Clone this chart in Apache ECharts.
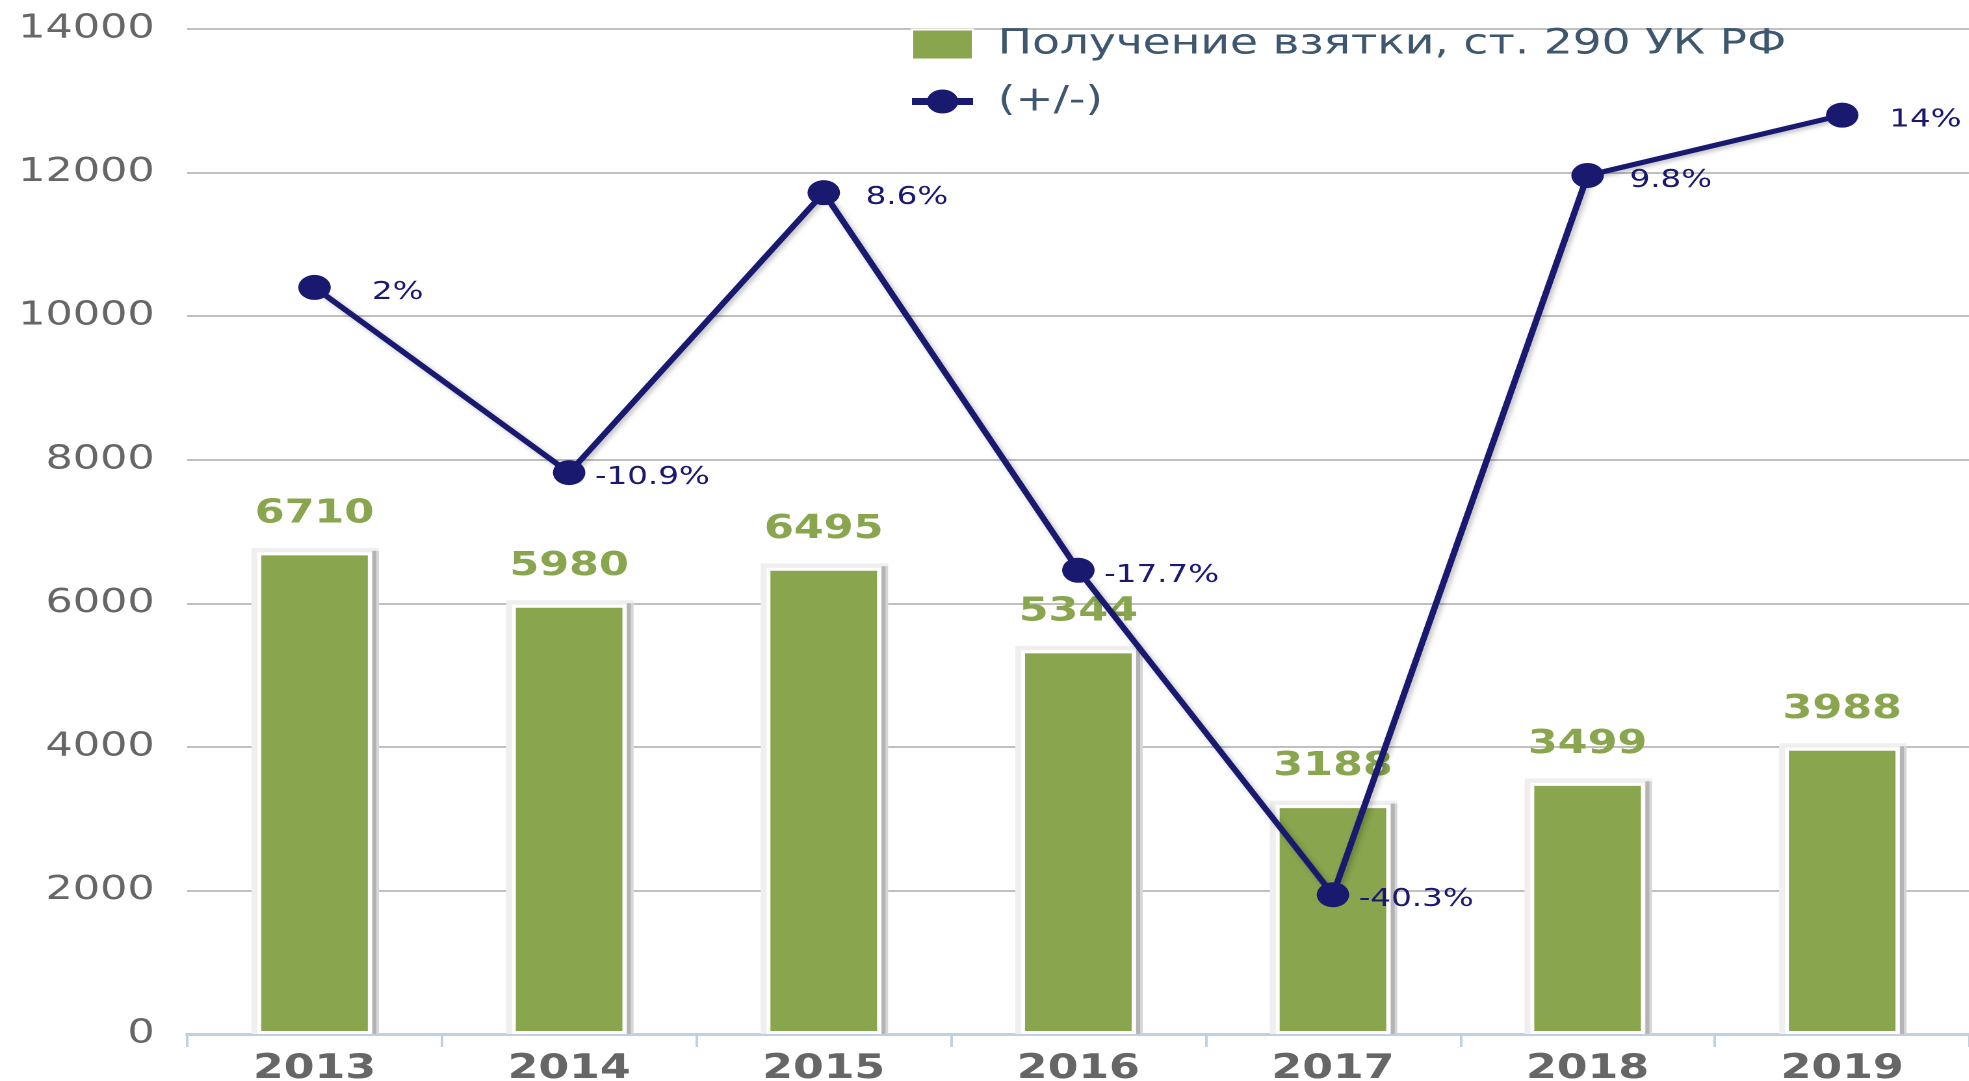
<!DOCTYPE html>
<html>
<head>
<meta charset="utf-8">
<script src="https://cdn.jsdelivr.net/npm/echarts@6/dist/echarts.min.js"></script>
<style>
  html, body { margin: 0; padding: 0; background: #fff; overflow: hidden; }
  #wrap { width: 1969px; height: 1081px; overflow: hidden; position: relative; }
  #chart { width: 1515px; height: 1081px; transform: scaleX(1.3); transform-origin: 0 0; }
</style>
</head>
<body>
<div id="wrap"><div id="chart"></div></div>
<script>
// Data
const years = ['2013', '2014', '2015', '2016', '2017', '2018', '2019'];
const bribeCases = [6710, 5980, 6495, 5344, 3188, 3499, 3988];
const changePct = [2, -10.9, 8.6, -17.7, -40.3, 9.8, 14];
const barName = 'Получение взятки, ст. 290 УК РФ';
const lineName = '(+/-)';
const yMin = 0, yMax = 14000, yStep = 2000;
const pctMin = -50, pctMax = 20;

const GREEN = '#89A54E';
const NAVY = '#191970';
const BAR_W = 88;

const chart = echarts.init(document.getElementById('chart'), null, { devicePixelRatio: 2 });
chart.setOption({
  animation: false,
  backgroundColor: '#fff',
  textStyle: { fontFamily: 'DejaVu Sans' },
  legend: {
    orient: 'vertical',
    left: 693,
    top: 22,
    itemWidth: 47,
    itemHeight: 30,
    itemGap: 22,
    textStyle: { color: '#3E576F', fontSize: 35, padding: [0, 0, 0, 14] },
    data: [
      { name: barName, icon: 'rect' },
      { name: lineName, lineStyle: { width: 7 } }
    ]
  },
  grid: { left: 144, right: 0, top: 29, bottom: 47, containLabel: false, outerBoundsMode: 'none' },
  xAxis: {
    type: 'category',
    data: years,
    axisLine: { lineStyle: { color: '#C0D0E0', width: 3 } },
    axisTick: { show: true, length: 13, lineStyle: { color: '#C0D0E0', width: 2 } },
    axisLabel: { color: '#666', fontSize: 34, fontWeight: 'bold', margin: 18 }
  },
  yAxis: [
    {
      type: 'value',
      min: yMin, max: yMax, interval: yStep,
      axisLine: { show: false },
      axisTick: { show: false },
      axisLabel: { color: '#666', fontSize: 33, margin: 25, formatter: v => String(v) },
      splitLine: { lineStyle: { color: '#C0C0C0', width: 2 } }
    },
    {
      type: 'value',
      min: pctMin, max: pctMax,
      show: false,
      splitLine: { show: false }
    }
  ],
  series: [
    {
      // soft halo + right-hand shadow behind each bar
      type: 'custom',
      silent: true,
      z: 1,
      data: bribeCases.map((v, i) => [i, v]),
      renderItem: (params, api) => {
        const top = api.coord([api.value(0), api.value(1)]);
        const base = api.coord([api.value(0), 0]);
        const half = BAR_W / 2 + 1.5;
        return {
          type: 'group',
          children: [
            { type: 'rect', shape: { x: top[0] - half - 3, y: top[1] - 4.5, width: 2 * half + 7, height: base[1] - top[1] + 4.5 }, style: { fill: '#efefef' } },
            { type: 'rect', shape: { x: top[0] + half - 1, y: top[1] - 1.5, width: 5, height: base[1] - top[1] + 1.5 }, style: { fill: '#d6d6d6' } },
            { type: 'rect', shape: { x: top[0] + half - 1, y: top[1] - 1.5, width: 3, height: base[1] - top[1] + 1.5 }, style: { fill: '#b4b4b4' } }
          ]
        };
      }
    },
    {
      name: barName,
      type: 'bar',
      data: bribeCases,
      barWidth: BAR_W,
      barGap: '-100%',
      z: 2,
      itemStyle: {
        color: GREEN,
        borderColor: '#fff',
        borderWidth: 3
      },
      label: {
        show: true,
        position: 'top',
        distance: 22,
        color: GREEN,
        fontSize: 33,
        fontWeight: 'bold'
      }
    },
    {
      name: lineName,
      type: 'line',
      yAxisIndex: 1,
      data: changePct,
      symbol: 'circle',
      symbolSize: 25,
      itemStyle: { color: NAVY },
      lineStyle: {
        color: NAVY,
        width: 5,
        shadowColor: 'rgba(0,0,0,0.25)',
        shadowBlur: 4,
        shadowOffsetX: 2,
        shadowOffsetY: 2
      },
      label: {
        show: true,
        position: 'inside',
        offset: [64, 5],
        align: 'center',
        color: NAVY,
        fontSize: 25,
        formatter: p => p.value + '%'
      },
      z: 5
    }
  ]
});
</script>
</body>
</html>
